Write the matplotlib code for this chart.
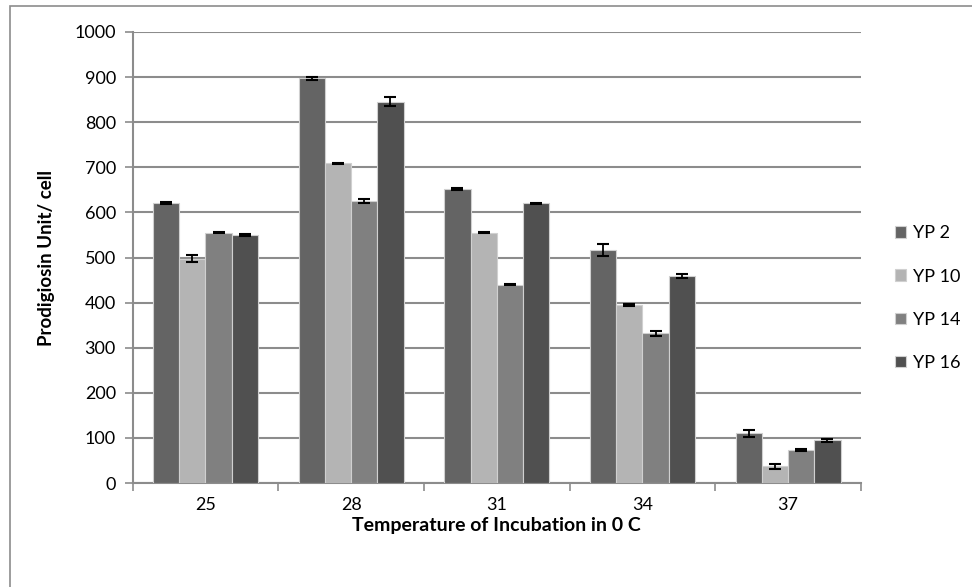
import numpy as np
import matplotlib.pyplot as plt
from matplotlib.patches import Rectangle

# data
temps = ["25", "28", "31", "34", "37"]
series = ["YP 2", "YP 10", "YP 14", "YP 16"]
yp2 = [620, 897, 651, 517, 110]
yp10 = [497, 709, 555, 395, 37]
yp14 = [555, 625, 440, 332, 73]
yp16 = [550, 845, 620, 459, 95]
err2 = [2, 4, 2, 13, 7]
err10 = [8, 1, 1, 3, 6]
err14 = [1, 5, 2, 5, 3]
err16 = [2, 10, 1, 4, 3]

values = [yp2, yp10, yp14, yp16]
errors = [err2, err10, err14, err16]
colors = ["#646464", "#b4b4b4", "#808080", "#505050"]

plt.rcParams["font.family"] = ["Lato", "DejaVu Sans"]

fig = plt.figure(figsize=(9.72, 5.87), dpi=100)
ax = fig.add_axes([132.6 / 972, 1 - 483 / 587, (861 - 132.6) / 972, (483 - 32) / 587])

x = np.arange(len(temps))
w = 0.18
for i, (vals, errs) in enumerate(zip(values, errors)):
    pos = x + (i - 1.5) * w
    ax.bar(pos, vals, width=w, color=colors[i], edgecolor="#d0d0d0",
           linewidth=0.8, label=series[i], zorder=3)
    ax.errorbar(pos, vals, yerr=errs, fmt="none", ecolor="black",
                elinewidth=1.3, capsize=4, capthick=1.5, zorder=4)

ax.set_xlim(-0.5, len(temps) - 0.5)
ax.set_ylim(0, 1000)
ax.set_yticks(range(0, 1001, 100))
ax.yaxis.grid(True, color="#8c8c8c", linewidth=1.5, zorder=0)
ax.set_axisbelow(True)

ax.set_xticks(x)
ax.set_xticklabels(temps, fontsize=13)
ax.set_xticks(np.arange(-0.5, len(temps)), minor=True)
ax.tick_params(axis="x", which="major", length=0, pad=10)
ax.tick_params(axis="x", which="minor", length=6, width=1.2, color="#8c8c8c")
ax.tick_params(axis="y", length=6, width=1.2, color="#8c8c8c", labelsize=13, pad=6)

for s in ["top", "right"]:
    ax.spines[s].set_visible(False)
for s in ["left", "bottom"]:
    ax.spines[s].set_color("#8c8c8c")
    ax.spines[s].set_linewidth(1.5)

ax.set_xlabel("Temperature of Incubation in 0 C", fontsize=14, fontweight="bold", labelpad=3)
ax.set_ylabel("Prodigiosin Unit/ cell", fontsize=13.5, fontweight="bold", labelpad=14)

leg = ax.legend(loc="center left", bbox_to_anchor=(1.024, 0.41), frameon=False,
                fontsize=13, handlelength=0.6, handleheight=0.6,
                labelspacing=1.5, handletextpad=0.4)

# outer chart border
fig.patches.append(Rectangle((10 / 972, -0.1), 1.0, 1 - 6 / 587 + 0.1,
                             transform=fig.transFigure, fill=False,
                             edgecolor="#8c8c8c", linewidth=1.2))

fig.savefig("out.png", dpi=100)
